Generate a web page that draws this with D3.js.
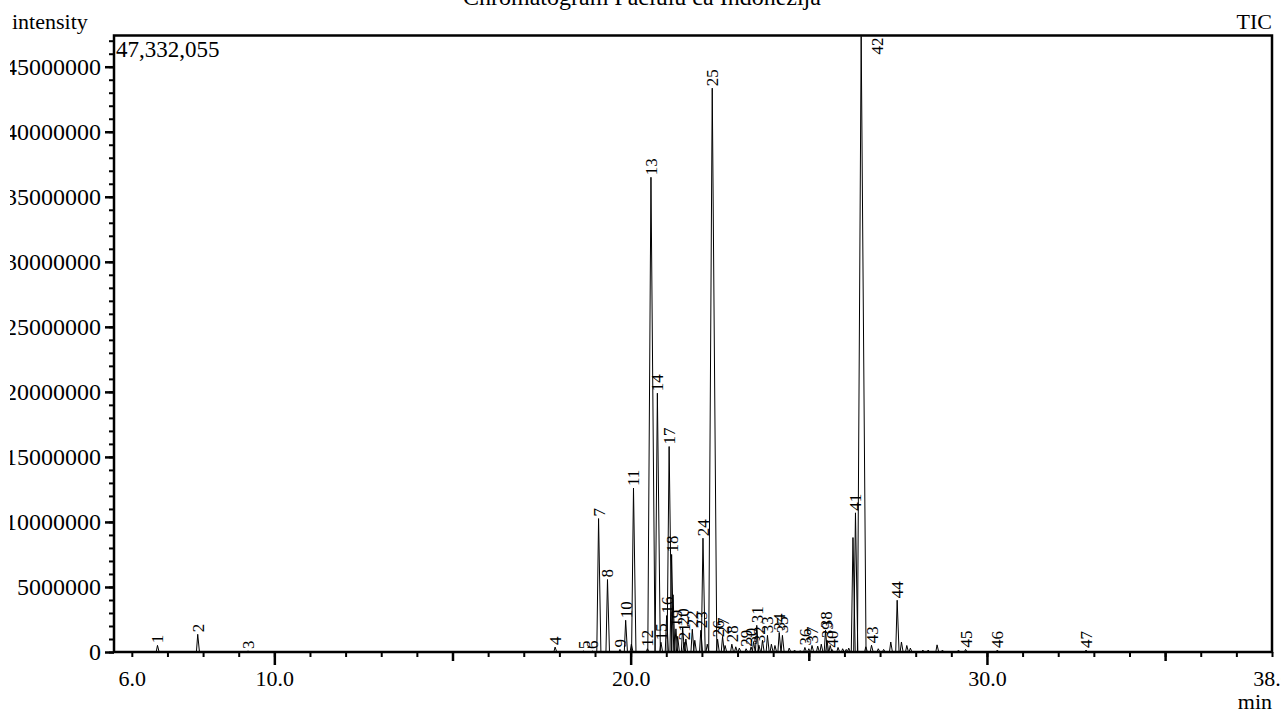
<!DOCTYPE html>
<html>
<head>
<meta charset="utf-8">
<script src="https://cdn.jsdelivr.net/npm/d3@7"></script>
<style>
  body { margin: 0; background: #fff; }
  svg { display: block; }
  svg text { font-family: 'Liberation Serif', 'Times New Roman', serif; }
</style>
</head>
<body>
<svg id="chart" width="1281" height="713"></svg>
<script>
// labelled peaks
const peakNo = [1, 2, 3, 4, 5, 6, 7, 8, 9, 10, 11, 12, 13, 14, 15, 16, 17, 18, 19, 20,
  21, 22, 23, 24, 25, 26, 27, 28, 29, 30, 31, 32, 33, 34, 35, 36, 37, 38, 39, 40,
  41, 42, 43, 44, 45, 46, 47];
const peakTime = [6.72, 7.85, 9.26, 17.88, 18.68, 18.92, 19.10, 19.35, 19.70, 19.86,
  20.08, 20.47, 20.57, 20.75, 20.85, 21.01, 21.08, 21.15, 21.27, 21.46,
  21.50, 21.73, 21.97, 22.03, 22.29, 22.44, 22.58, 22.84, 23.24, 23.38,
  23.54, 23.60, 23.84, 24.17, 24.26, 24.89, 25.09, 25.47, 25.51, 25.65,
  26.31, 26.47, 26.76, 27.48, 29.40, 30.29, 32.78];
const peakHeight = [510000, 1360000, 80000, 380000, 80000, 80000, 10260000, 5570000, 200000, 2440000,
  12600000, 250000, 36500000, 19900000, 750000, 2800000, 15800000, 7500000, 1780000, 1900000,
  750000, 1750000, 1670000, 8750000, 43350000, 980000, 1200000, 600000, 250000, 400000,
  2050000, 520000, 1280000, 1500000, 1280000, 350000, 500000, 1670000, 900000, 200000,
  10700000, 47332055, 520000, 3980000, 200000, 150000, 150000];

// small unlabelled peaks and shoulders
const minorTime = [20.02, 21.19, 21.32, 21.55, 21.80, 22.15, 22.65, 22.95, 23.05, 23.45,
  23.70, 23.95, 24.05, 24.45, 24.60, 24.75, 25.00, 25.25, 25.35, 25.60,
  25.82, 25.95, 26.05, 26.12, 26.24, 26.60, 26.95, 27.10, 27.30, 27.60,
  27.75, 27.85, 28.20, 28.35, 28.60, 28.75, 29.20];
const minorHeight = [600000, 4400000, 1200000, 1000000, 900000, 600000, 500000, 400000, 300000, 800000,
  900000, 600000, 500000, 300000, 150000, 100000, 250000, 450000, 600000, 500000,
  350000, 250000, 200000, 300000, 8800000, 400000, 250000, 200000, 770000, 770000,
  500000, 300000, 150000, 150000, 550000, 150000, 150000];

const maxLabel = "47,332,055";
const xLabelTicks = [6, 10, 20, 30, 38];
const xLongTicks = [10, 20, 30];
const xMidTicks = [15, 25, 35];
const yMajorTicks = [0, 5000000, 10000000, 15000000, 20000000, 25000000, 30000000,
  35000000, 40000000, 45000000];

const plotLeft = 114, plotRight = 1272, plotTop = 35.5, plotBottom = 652;
const serif = "'Liberation Serif', 'Times New Roman', serif";

const svg = d3.select("#chart").attr("font-family", serif);
const x = d3.scaleLinear().domain([5.5, 38]).range([plotLeft, plotRight]);
const y = d3.scaleLinear().domain([0, 47400000]).range([plotBottom, plotTop]);

svg.append("clipPath").attr("id", "plot")
  .append("rect").attr("x", plotLeft).attr("y", plotTop)
  .attr("width", plotRight - plotLeft).attr("height", plotBottom - plotTop);
svg.append("clipPath").attr("id", "page")
  .append("rect").attr("x", 10).attr("y", 0).attr("width", 1271).attr("height", 713);

// texts
svg.append("text").attr("x", 642).attr("y", 5).attr("text-anchor", "middle")
  .attr("font-size", 24).text("Chromatogram Paclulu ca Indonezija");
svg.append("text").attr("x", 12).attr("y", 29).attr("font-size", 22).text("intensity");
svg.append("text").attr("x", plotRight).attr("y", 29).attr("text-anchor", "end")
  .attr("font-size", 22).text("TIC");
svg.append("text").attr("x", plotRight).attr("y", 709).attr("text-anchor", "end")
  .attr("font-size", 22).text("min");

// trace
const peaks = peakTime.map((t, i) => ({ t, h: peakHeight[i], n: peakNo[i] }))
  .concat(minorTime.map((t, i) => ({ t, h: minorHeight[i], n: null })));
const maxH = d3.max(peaks, d => d.h);
const line = d3.line().x(d => x(d[0])).y(d => y(d[1]));

const trace = svg.append("g").attr("clip-path", "url(#plot)")
  .attr("fill", "none").attr("stroke", "#000").attr("stroke-width", 1);
trace.append("path").attr("d", line([[5.5, 0], [38, 0]]));
trace.selectAll(".peak")
  .data(peaks)
  .enter()
  .append("path")
  .attr("class", "peak")
  .attr("d", d => {
    const w = 0.035 + 0.07 * d.h / maxH;
    return line([[d.t - w, 0], [d.t, d.h], [d.t + w * 1.3, 0]]);
  });

// peak numbers
const labels = svg.append("g").attr("font-size", 17);
peaks.filter(d => d.n !== null).forEach(d => {
  const px = x(d.t), py = y(d.h) - 2;
  const txt = labels.append("text").text(d.n);
  const len = txt.node().getComputedTextLength();
  if (py - len < plotTop) {
    txt.attr("text-anchor", "end")
      .attr("transform", `translate(${px + 22},${plotTop + 2}) rotate(-90)`);
  } else {
    txt.attr("transform", `translate(${px + 6},${py}) rotate(-90)`);
  }
});

svg.append("text").attr("x", plotLeft + 2).attr("y", 57).attr("font-size", 23).text(maxLabel);

// axes
const axisStyle = (g, w) => {
  g.attr("font-family", serif);
  g.select(".domain").remove();
  g.selectAll(".tick line").attr("stroke", "#000").attr("stroke-width", w);
  g.selectAll(".tick text").attr("fill", "#000").attr("font-size", 22);
};

svg.append("g").attr("transform", `translate(0,${plotBottom})`)
  .call(d3.axisBottom(x).tickValues(d3.range(6, 39)).tickSize(5).tickFormat(""))
  .call(g => axisStyle(g, 2));
svg.append("g").attr("transform", `translate(0,${plotBottom})`)
  .call(d3.axisBottom(x).tickValues(xMidTicks).tickSize(9).tickFormat(""))
  .call(g => axisStyle(g, 2.5));
svg.append("g").attr("transform", `translate(0,${plotBottom})`)
  .call(d3.axisBottom(x).tickValues(xLongTicks).tickSize(13).tickFormat(""))
  .call(g => axisStyle(g, 2.5));
svg.append("g").attr("transform", `translate(0,${plotBottom})`)
  .call(d3.axisBottom(x).tickValues(xLabelTicks).tickSize(0).tickPadding(18)
    .tickFormat(d3.format(".1f")))
  .call(g => axisStyle(g, 0));

svg.append("g").attr("transform", `translate(${plotLeft},0)`)
  .call(d3.axisLeft(y).tickValues(d3.range(0, 47000001, 1000000)).tickSize(5).tickFormat(""))
  .call(g => axisStyle(g, 2));
svg.append("g").attr("clip-path", "url(#page)")
  .append("g").attr("transform", `translate(${plotLeft},0)`)
  .call(d3.axisLeft(y).tickValues(yMajorTicks).tickSize(9).tickPadding(4)
    .tickFormat(d3.format("d")))
  .call(g => axisStyle(g, 2.5))
  .call(g => g.selectAll(".tick text").attr("font-size", 24));

// frame
svg.append("rect").attr("x", plotLeft).attr("y", plotTop)
  .attr("width", plotRight - plotLeft).attr("height", plotBottom - plotTop)
  .attr("fill", "none").attr("stroke", "#000").attr("stroke-width", 2.5);
</script>
</body>
</html>
